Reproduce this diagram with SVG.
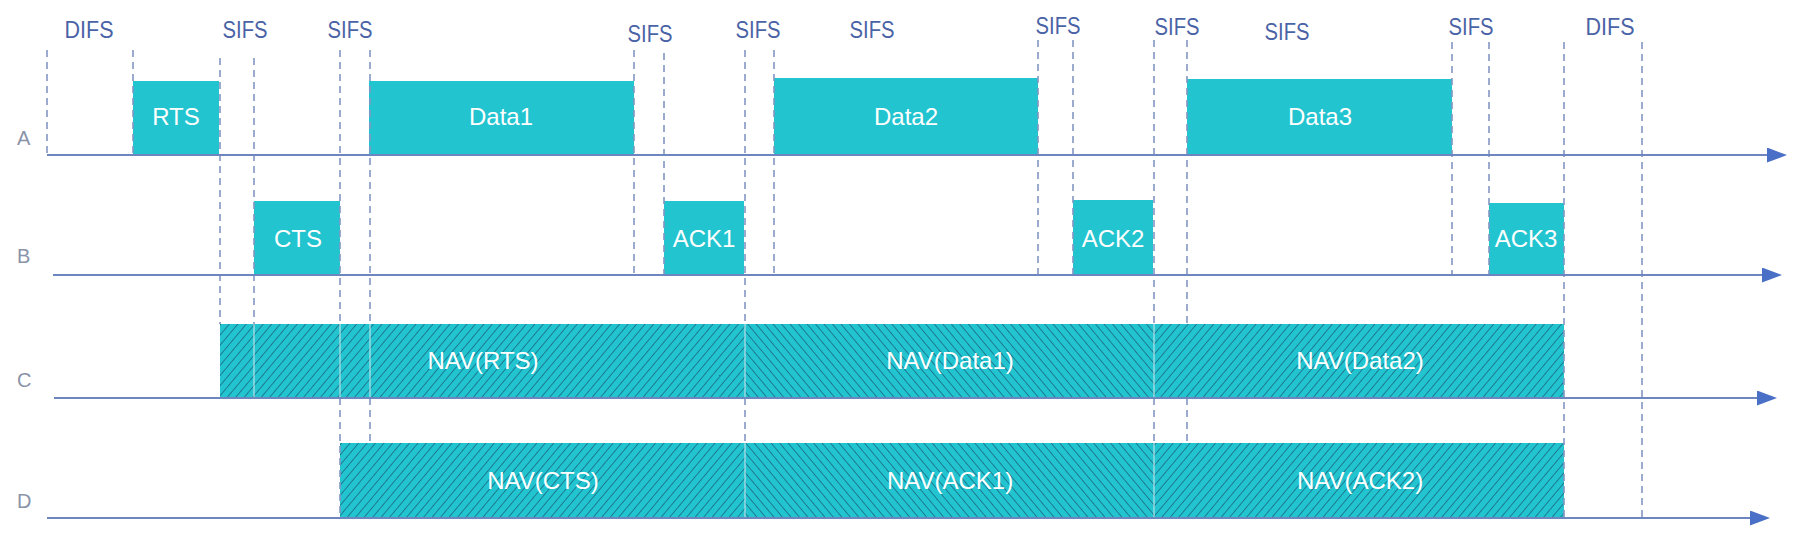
<svg xmlns="http://www.w3.org/2000/svg" width="1803" height="534" viewBox="0 0 1803 534">
<style>
.bg{fill:#ffffff}
.box{fill:#21c4cf}
.lbl{font-family:"Liberation Sans",Arial,sans-serif;font-size:24px;fill:#ffffff;text-anchor:middle}
.ifs{font-family:"Liberation Sans",Arial,sans-serif;font-size:23px;fill:#4a63a6;text-anchor:middle}
.row{font-family:"Liberation Sans",Arial,sans-serif;font-size:20px;fill:#8a93a8}
.axis{stroke:#6e86c0;stroke-width:2;fill:none}
.dash{stroke:#8396c2;stroke-width:1.6;stroke-dasharray:7 5;fill:none}
.thin{stroke:#b9dfe8;stroke-width:1.2;fill:none}
</style>
<defs>
<pattern id="hatchF" width="6.5" height="6.5" patternUnits="userSpaceOnUse" patternTransform="rotate(40)">
<rect width="6.5" height="6.5" fill="#21c4cf"/>
<line x1="0" y1="0" x2="0" y2="6.5" stroke="#1b5a78" stroke-width="1.4"/>
</pattern>
<pattern id="hatchB" width="6.5" height="6.5" patternUnits="userSpaceOnUse" patternTransform="rotate(-40)">
<rect width="6.5" height="6.5" fill="#21c4cf"/>
<line x1="0" y1="0" x2="0" y2="6.5" stroke="#1b5a78" stroke-width="1.4"/>
</pattern>
<marker id="arr" viewBox="0 0 20 15" refX="0" refY="7.5" markerWidth="20" markerHeight="15" markerUnits="userSpaceOnUse" orient="auto">
<path d="M0,0 L20,7.5 L0,15 z" fill="#4a6fc6"/>
</marker>
</defs>
<rect class="bg" x="0" y="0" width="1803" height="534"/>

<g id="row-labels">
<text class="row" x="17" y="145">A</text>
<text class="row" x="17" y="263">B</text>
<text class="row" x="17" y="387">C</text>
<text class="row" x="17" y="508">D</text>
</g>

<g id="ifs-labels">
<text class="ifs" x="89" y="38" textLength="49" lengthAdjust="spacingAndGlyphs">DIFS</text>
<text class="ifs" x="245" y="38" textLength="45" lengthAdjust="spacingAndGlyphs">SIFS</text>
<text class="ifs" x="350" y="38" textLength="45" lengthAdjust="spacingAndGlyphs">SIFS</text>
<text class="ifs" x="650" y="42" textLength="45" lengthAdjust="spacingAndGlyphs">SIFS</text>
<text class="ifs" x="758" y="38" textLength="45" lengthAdjust="spacingAndGlyphs">SIFS</text>
<text class="ifs" x="872" y="38" textLength="45" lengthAdjust="spacingAndGlyphs">SIFS</text>
<text class="ifs" x="1058" y="34" textLength="45" lengthAdjust="spacingAndGlyphs">SIFS</text>
<text class="ifs" x="1177" y="35" textLength="45" lengthAdjust="spacingAndGlyphs">SIFS</text>
<text class="ifs" x="1287" y="40" textLength="45" lengthAdjust="spacingAndGlyphs">SIFS</text>
<text class="ifs" x="1471" y="35" textLength="45" lengthAdjust="spacingAndGlyphs">SIFS</text>
<text class="ifs" x="1610" y="35" textLength="49" lengthAdjust="spacingAndGlyphs">DIFS</text>
</g>

<g id="node-RTS"><rect class="box" x="133" y="81" width="86" height="74"/><text class="lbl" x="176" y="125">RTS</text></g>
<g id="node-Data1"><rect class="box" x="369" y="81" width="265" height="74"/><text class="lbl" x="501" y="125">Data1</text></g>
<g id="node-Data2"><rect class="box" x="774" y="78" width="264" height="77"/><text class="lbl" x="906" y="125">Data2</text></g>
<g id="node-Data3"><rect class="box" x="1187" y="79" width="265" height="76"/><text class="lbl" x="1320" y="125">Data3</text></g>
<g id="node-CTS"><rect class="box" x="254" y="201" width="86" height="74"/><text class="lbl" x="298" y="247">CTS</text></g>
<g id="node-ACK1"><rect class="box" x="664" y="201" width="80" height="74"/><text class="lbl" x="704" y="247">ACK1</text></g>
<g id="node-ACK2"><rect class="box" x="1073" y="200" width="80" height="75"/><text class="lbl" x="1113" y="247">ACK2</text></g>
<g id="node-ACK3"><rect class="box" x="1489" y="203" width="75" height="72"/><text class="lbl" x="1526" y="247">ACK3</text></g>

<g id="node-NAV-RTS"><rect x="220" y="324" width="525" height="74" fill="url(#hatchF)"/><text class="lbl" x="483" y="369">NAV(RTS)</text></g>
<g id="node-NAV-Data1"><rect x="745" y="324" width="409" height="74" fill="url(#hatchB)"/><text class="lbl" x="950" y="369">NAV(Data1)</text></g>
<g id="node-NAV-Data2"><rect x="1154" y="324" width="410" height="74" fill="url(#hatchF)"/><text class="lbl" x="1360" y="369">NAV(Data2)</text></g>
<g id="node-NAV-CTS"><rect x="340" y="443" width="405" height="75" fill="url(#hatchF)"/><text class="lbl" x="543" y="489">NAV(CTS)</text></g>
<g id="node-NAV-ACK1"><rect x="745" y="443" width="409" height="75" fill="url(#hatchB)"/><text class="lbl" x="950" y="489">NAV(ACK1)</text></g>
<g id="node-NAV-ACK2"><rect x="1154" y="443" width="410" height="75" fill="url(#hatchF)"/><text class="lbl" x="1360" y="489">NAV(ACK2)</text></g>

<g id="connectors">
<g id="timing-lines">
<line class="dash" x1="47" y1="50" x2="47" y2="155"/>
<line class="dash" x1="133" y1="50" x2="133" y2="155"/>
<line class="dash" x1="220" y1="58" x2="220" y2="324"/>
<line class="dash" x1="254" y1="58" x2="254" y2="324"/>
<line class="thin" x1="254" y1="324" x2="254" y2="398"/>
<line class="dash" x1="340" y1="50" x2="340" y2="324"/>
<line class="thin" x1="340" y1="324" x2="340" y2="398"/>
<line class="dash" x1="340" y1="398" x2="340" y2="518"/>
<line class="dash" x1="370" y1="50" x2="370" y2="324"/>
<line class="thin" x1="370" y1="324" x2="370" y2="398"/>
<line class="dash" x1="370" y1="398" x2="370" y2="443"/>
<line class="dash" x1="634" y1="50" x2="634" y2="275"/>
<line class="dash" x1="664" y1="53" x2="664" y2="275"/>
<line class="dash" x1="745" y1="50" x2="745" y2="324"/>
<line class="thin" x1="745" y1="324" x2="745" y2="398"/>
<line class="dash" x1="745" y1="398" x2="745" y2="443"/>
<line class="thin" x1="745" y1="443" x2="745" y2="518"/>
<line class="dash" x1="774" y1="50" x2="774" y2="275"/>
<line class="dash" x1="1038" y1="40" x2="1038" y2="275"/>
<line class="dash" x1="1073" y1="40" x2="1073" y2="275"/>
<line class="dash" x1="1154" y1="40" x2="1154" y2="324"/>
<line class="thin" x1="1154" y1="324" x2="1154" y2="398"/>
<line class="dash" x1="1154" y1="398" x2="1154" y2="443"/>
<line class="thin" x1="1154" y1="443" x2="1154" y2="518"/>
<line class="dash" x1="1187" y1="40" x2="1187" y2="324"/>
<line class="dash" x1="1187" y1="398" x2="1187" y2="443"/>
<line class="dash" x1="1452" y1="42" x2="1452" y2="275"/>
<line class="dash" x1="1489" y1="42" x2="1489" y2="275"/>
<line class="dash" x1="1564" y1="42" x2="1564" y2="518"/>
<line class="dash" x1="1642" y1="42" x2="1642" y2="518"/>
</g>
<g id="time-axes">
<line class="axis" x1="47" y1="155" x2="1767" y2="155" marker-end="url(#arr)"/>
<line class="axis" x1="53" y1="275" x2="1762" y2="275" marker-end="url(#arr)"/>
<line class="axis" x1="54" y1="398" x2="1757" y2="398" marker-end="url(#arr)"/>
<line class="axis" x1="47" y1="518" x2="1750" y2="518" marker-end="url(#arr)"/>
</g>
</g>
</svg>
